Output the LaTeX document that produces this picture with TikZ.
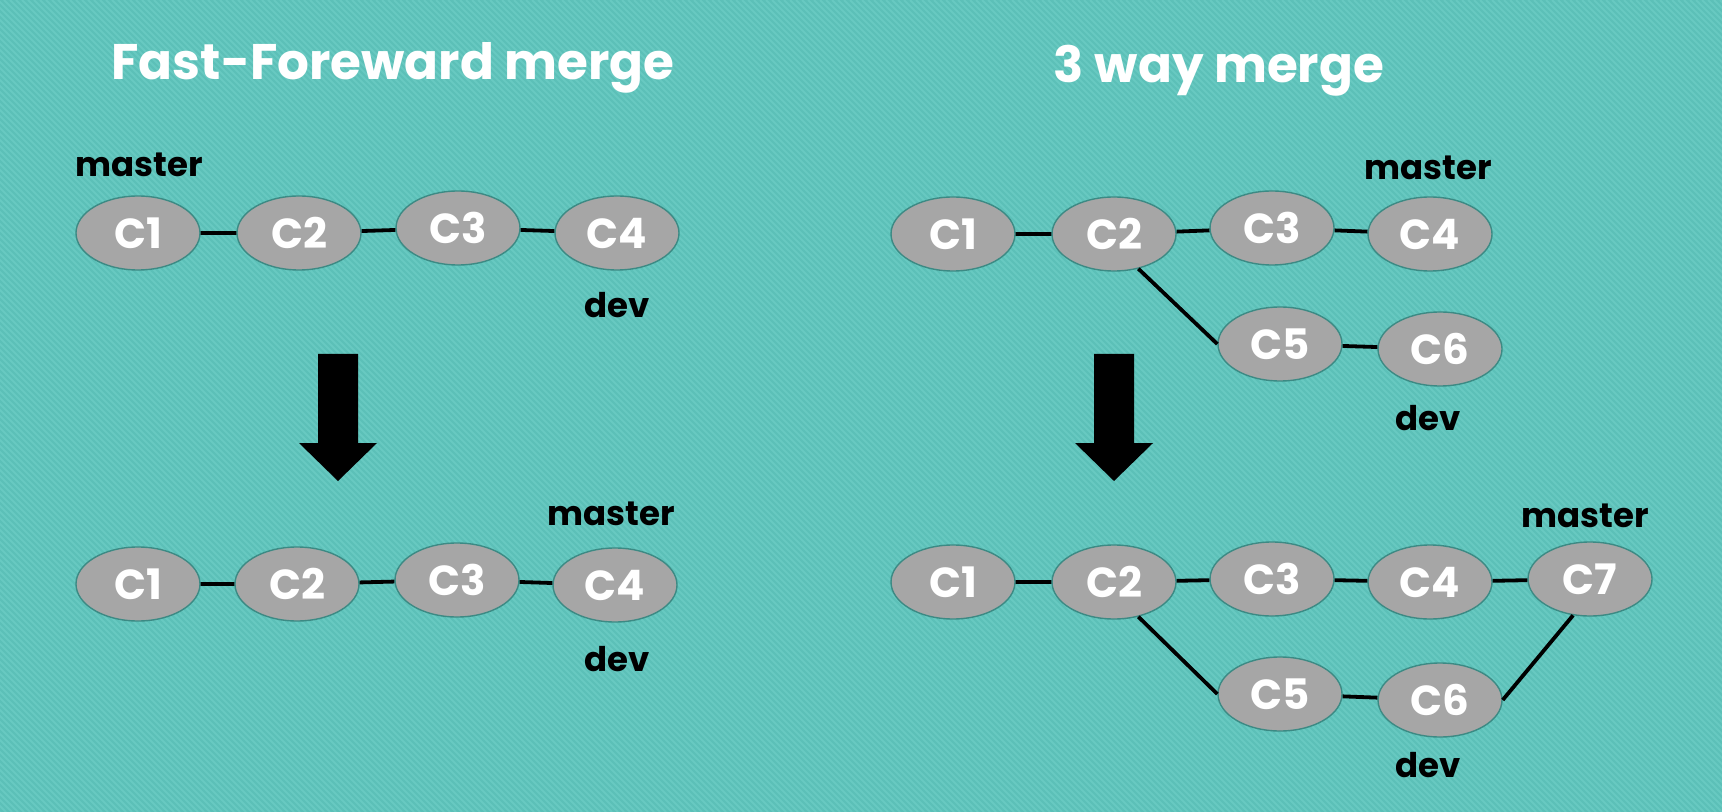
\documentclass[tikz,border=0pt]{standalone}
\usepackage{fontspec}
\setmainfont{Poppins}
\usepackage{xcolor}
\usepackage{tikz}
\usetikzlibrary{shapes.geometric}

\definecolor{bgteal}{RGB}{92,192,184}
\definecolor{stripeteal}{RGB}{104,201,193}
\definecolor{commitgray}{RGB}{166,166,166}
\definecolor{commitedge}{RGB}{60,138,132}

\tikzset{
    commit/.style={ellipse, fill=commitgray, draw=commitedge, line width=0.7pt,
        minimum width=62pt, minimum height=37pt, inner sep=0pt,
        text=white, font=\fontsize{21}{23}\selectfont\bfseries},
    branch/.style={text=black, font=\fontsize{17}{19}\selectfont\bfseries},
    heading/.style={text=white, font=\fontsize{25}{29}\selectfont\bfseries},
    link/.style={black, line width=1.9pt},
    bigarrow/.style={fill=black},
}

\begin{document}
\begin{tikzpicture}[x=0.5pt, y=-0.5pt]

\useasboundingbox (0,0) rectangle (1722,812);

% ============================================================
% background
% ============================================================

\fill[bgteal] (0,0) rectangle (1722,812);
\begin{scope}
\clip (0,0) rectangle (1722,812);
\foreach \s in {0,6,...,2540} {
    \draw[stripeteal, line width=1pt] (\s-812,0) -- (\s,812);
}
\end{scope}

% ============================================================
% LEFT: fast-forward merge
% ============================================================

\node[heading] (fftitle) at (393,68) {Fast-Foreward merge};

\node[commit] (a1) at (138,233) {C1};
\node[commit] (a2) at (299,233) {C2};
\node[commit] (a3) at (458,228) {C3};
\node[commit] (a4) at (617,233) {C4};
\draw[link] (a1) -- (a2) (a2) -- (a3) (a3) -- (a4);

\node[branch] (amaster) at (139,165) {master};
\node[branch] (adev)    at (617,305) {dev};

\fill[bigarrow] (318,354) -- (358,354) -- (358,443) -- (377,443)
    -- (338,481) -- (299,443) -- (318,443) -- cycle;

\node[commit] (b1) at (138,584) {C1};
\node[commit] (b2) at (297,584) {C2};
\node[commit] (b3) at (457,580) {C3};
\node[commit] (b4) at (615,585) {C4};
\draw[link] (b1) -- (b2) (b2) -- (b3) (b3) -- (b4);

\node[branch] (bmaster) at (611,514) {master};
\node[branch] (bdev)    at (617,659) {dev};

% ============================================================
% RIGHT: 3 way merge
% ============================================================

\node[heading] (twtitle) at (1219,71) {3 way merge};

\node[commit] (p1) at (953,234)  {C1};
\node[commit] (p2) at (1114,234) {C2};
\node[commit] (p3) at (1272,228) {C3};
\node[commit] (p4) at (1430,234) {C4};
\node[commit] (p5) at (1280,344) {C5};
\node[commit] (p6) at (1440,349) {C6};
\draw[link] (p1) -- (p2) (p2) -- (p3) (p3) -- (p4);
\draw[link] (p2.-55) -- (p5.west);
\draw[link] (p5) -- (p6);

\node[branch] (pmaster) at (1428,168) {master};
\node[branch] (pdev)    at (1428,418) {dev};

\fill[bigarrow] (1094,354) -- (1134,354) -- (1134,443) -- (1153,443)
    -- (1114,481) -- (1075,443) -- (1094,443) -- cycle;

\node[commit] (q1) at (953,582)  {C1};
\node[commit] (q2) at (1114,582) {C2};
\node[commit] (q3) at (1272,579) {C3};
\node[commit] (q4) at (1430,582) {C4};
\node[commit] (q7) at (1590,579) {C7};
\node[commit] (q5) at (1280,694) {C5};
\node[commit] (q6) at (1440,700) {C6};
\draw[link] (q1) -- (q2) (q2) -- (q3) (q3) -- (q4) (q4) -- (q7);
\draw[link] (q2.-55) -- (q5.west);
\draw[link] (q5) -- (q6);
\draw[link] (q6.east) -- (q7.-115);

\node[branch] (qmaster) at (1585,516) {master};
\node[branch] (qdev)    at (1428,765) {dev};

\end{tikzpicture}
\end{document}
